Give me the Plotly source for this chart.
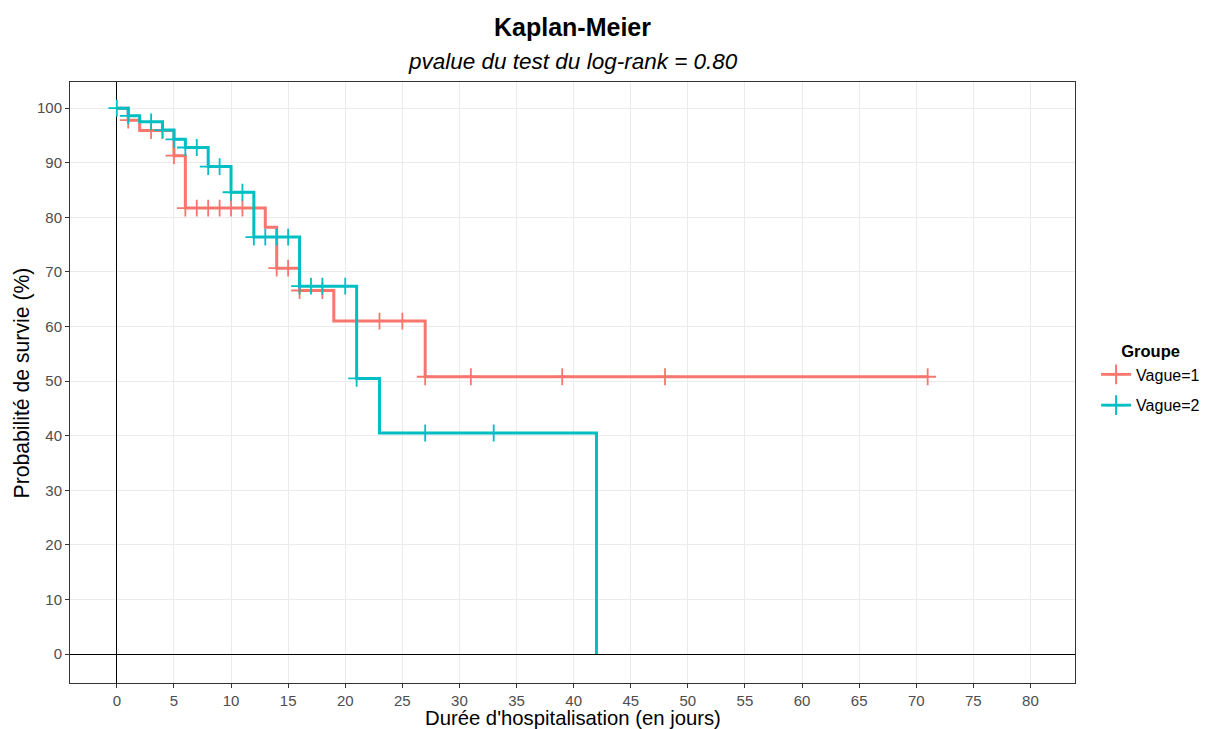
import plotly.graph_objects as go

# ---- data ----
groups = ["Vague=1", "Vague=2"]

v1_times = [0, 1, 2, 5, 6, 13, 14, 16, 19, 27, 71]
v1_surv = [100, 97.8, 95.9, 91.3, 81.7, 78.2, 70.7, 66.6, 61.0, 50.8, 50.8]
v1_censor_times = [1, 3, 4, 5, 6, 7, 8, 9, 10, 11, 14, 15, 16, 18, 21, 23, 25, 27, 31, 39, 48, 71]

v2_times = [0, 1, 2, 4, 5, 6, 8, 10, 12, 16, 21, 23, 42]
v2_surv = [100, 98.6, 97.5, 96.0, 94.3, 92.8, 89.3, 84.6, 76.4, 67.4, 50.5, 40.5, 0]
v2_censor_times = [0, 1, 3, 4, 5, 6, 7, 8, 9, 10, 11, 12, 13, 14, 15, 16, 17, 18, 20, 21, 27, 33]

x_ticks = list(range(0, 81, 5))
y_ticks = list(range(0, 101, 10))

colors = ["#F8766D", "#00BFC4"]


def level_at(times, surv, t):
    val = surv[0]
    for ti, si in zip(times, surv):
        if ti <= t:
            val = si
    return val


fig = go.Figure()
series = [(v1_times, v1_surv, v1_censor_times), (v2_times, v2_surv, v2_censor_times)]
for i, (name, col, (tt, ss, cc)) in enumerate(zip(groups, colors, series)):
    fig.add_trace(go.Scatter(x=tt, y=ss, mode="lines", line=dict(color=col, width=3, shape="hv"),
                             showlegend=False, hoverinfo="skip"))
    fig.add_trace(go.Scatter(x=cc, y=[level_at(tt, ss, c) for c in cc], mode="markers",
                             marker=dict(symbol="cross-thin", size=12, line=dict(color=col, width=1.8)),
                             showlegend=False))
    fig.add_trace(go.Scatter(x=[None], y=[None], mode="lines+markers", name=name, legendgroup=f"g{i}",
                             line=dict(color=col, width=2.8),
                             marker=dict(symbol="cross-thin", size=14, line=dict(color=col, width=2))))

font_family = "Liberation Sans, Arial, sans-serif"
fig.update_layout(
    width=1206, height=729,
    margin=dict(l=70, r=131, t=82, b=46, autoexpand=False),
    paper_bgcolor="white", plot_bgcolor="white",
    font=dict(family=font_family, color="#000000"),
    showlegend=True,
    legend=dict(title=dict(text="<b>Groupe</b>", font=dict(size=16.5, color="#000000"), side="top center"),
                font=dict(size=16, color="#000000"), x=1.021, y=0.505, xanchor="left", yanchor="middle",
                bgcolor="rgba(0,0,0,0)", tracegroupgap=7),
    xaxis=dict(range=[-4.1, 83.9], tickmode="array", tickvals=x_ticks, ticks="outside", ticklen=4,
               tickcolor="#333333", tickfont=dict(size=15, color="#4D4D4D"),
               showgrid=True, gridcolor="#EBEBEB", gridwidth=1,
               zeroline=True, zerolinecolor="#000000", zerolinewidth=1,
               showline=True, linecolor="#333333", linewidth=1, mirror=True),
    yaxis=dict(range=[-5.3, 104.8], tickmode="array", tickvals=y_ticks, ticks="outside", ticklen=4,
               tickcolor="#333333", tickfont=dict(size=15, color="#4D4D4D"),
               showgrid=True, gridcolor="#EBEBEB", gridwidth=1,
               zeroline=True, zerolinecolor="#000000", zerolinewidth=1,
               showline=True, linecolor="#333333", linewidth=1, mirror=True),
    annotations=[
        dict(text="<b>Kaplan-Meier</b>", x=0.5, y=1.0915, xref="paper", yref="paper", showarrow=False,
             font=dict(size=25, color="#000000"), xanchor="center", yanchor="middle"),
        dict(text="<i>pvalue du test du log-rank = 0.80</i>", x=0.5, y=1.0333, xref="paper", yref="paper",
             showarrow=False, font=dict(size=22.5, color="#000000"), xanchor="center", yanchor="middle"),
        dict(text="Durée d'hospitalisation (en jours)", x=0.5, y=-0.0582, xref="paper", yref="paper",
             showarrow=False, font=dict(size=20.3, color="#000000"), xanchor="center", yanchor="middle"),
        dict(text="Probabilité de survie (%)", x=-0.0478, y=0.5, xref="paper", yref="paper", textangle=-90,
             showarrow=False, font=dict(size=21.2, color="#000000"), xanchor="center", yanchor="middle"),
    ],
)

fig.write_html("out.html", config={"displayModeBar": False},
               post_script="document.body.style.margin='0';")
